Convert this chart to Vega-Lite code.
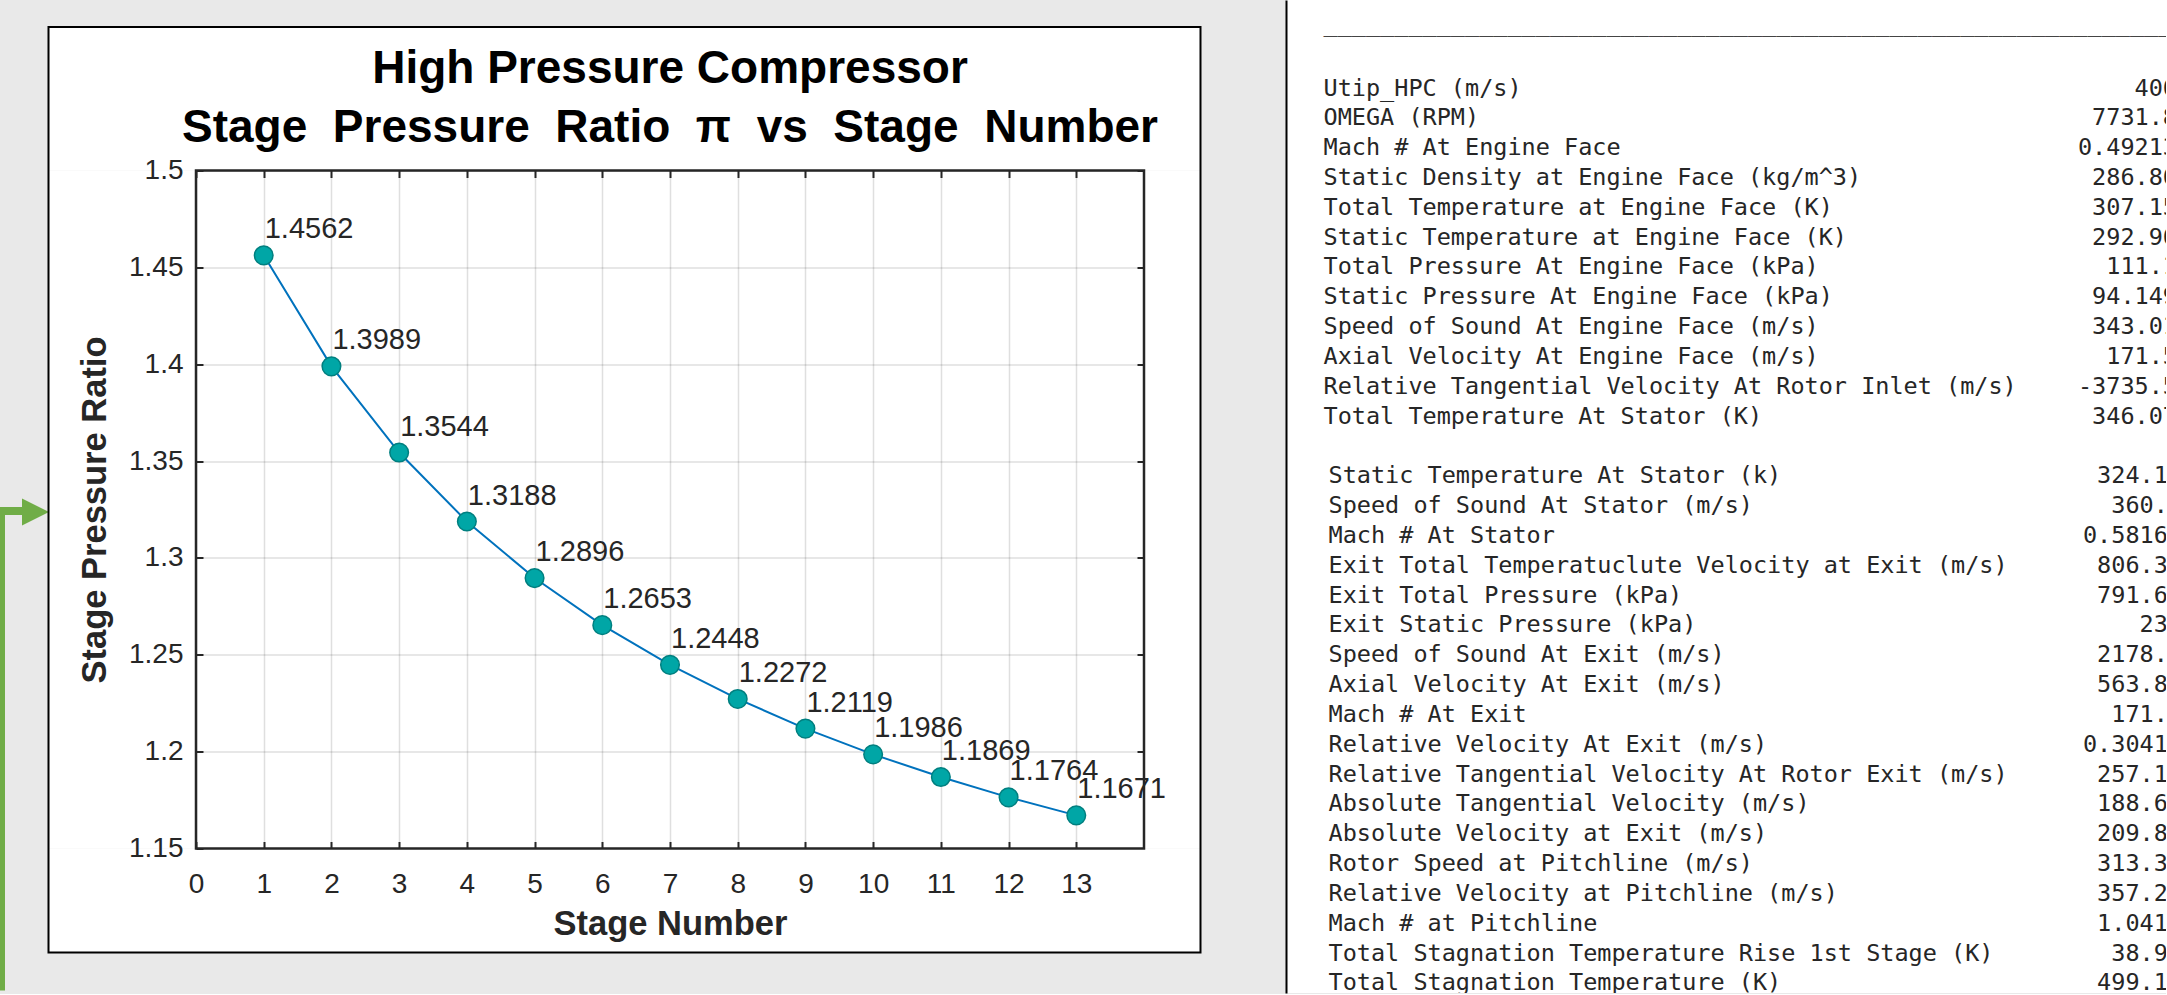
{
  "$schema": "https://vega.github.io/schema/vega-lite/v6.json",
  "padding": 0,
  "background": "#e9e9e9",
  "config": {"view": {"stroke": null}, "font": "Liberation Sans"},
  "spacing": 84,
  "hconcat": [
    {
      "spacing": 24.5,
      "vconcat": [
        {"width": 1, "height": 1, "data": {"values": []}, "mark": "point", "encoding": {}},
        {
          "width": 948,
          "height": 678,
          "view": {"fill": "white", "stroke": null},
          "title": {
            "text": ["High Pressure Compressor", "Stage \u00a0Pressure \u00a0Ratio \u00a0π \u00a0vs \u00a0Stage \u00a0Number"],
            "font": "Liberation Sans", "fontSize": 46, "fontWeight": "bold", "color": "#000000",
            "lineHeight": 59, "frame": "group", "anchor": "middle", "offset": -126.2, "zindex": 1
          },
          "resolve": {"scale": {"x": "independent", "y": "independent"}, "axis": {"x": "independent", "y": "independent"}},
          "layer": [
            {
              "data": {"values": [{}]},
              "layer": [
                {
                  "mark": {"type": "rule", "color": "#70AD47", "strokeWidth": 5},
                  "encoding": {
                    "x": {"datum": -2.85759, "type": "quantitative", "scale": {"domain": [0, 14], "nice": false, "zero": false},
                      "axis": {"orient": "top", "values": [0,1,2,3,4,5,6,7,8,9,10,11,12,13,14], "labels": false, "ticks": true, "tickSize": -7, "tickColor": "#262626", "tickWidth": 2, "domain": false, "grid": true, "gridColor": "#262626", "gridOpacity": 0.15, "gridWidth": 1.5, "title": null, "zindex": 0}},
                    "y": {"datum": 1.32629, "type": "quantitative", "scale": {"domain": [1.15, 1.5], "nice": false, "zero": false},
                      "axis": {"orient": "right", "values": [1.15,1.2,1.25,1.3,1.35,1.4,1.45,1.5], "labels": false, "ticks": true, "tickSize": -7, "tickColor": "#262626", "tickWidth": 2, "domain": false, "grid": true, "gridColor": "#262626", "gridOpacity": 0.15, "gridWidth": 1.5, "title": null, "zindex": 0}},
                    "y2": {"datum": 1.076696}
                  }
                },
                {
                  "mark": {"type": "rule", "color": "#70AD47", "strokeWidth": 8},
                  "encoding": {
                    "x": {"datum": -2.83544, "type": "quantitative", "scale": {"domain": [0, 14], "nice": false, "zero": false}},
                    "x2": {"datum": -2.52532},
                    "y": {"datum": 1.324226, "type": "quantitative", "scale": {"domain": [1.15, 1.5], "nice": false, "zero": false}}
                  }
                },
                {
                  "mark": {"type": "point", "shape": "M-1,-1L1,0L-1,1Z", "filled": true, "color": "#70AD47", "opacity": 1, "size": 729, "strokeWidth": 0},
                  "encoding": {
                    "x": {"datum": -2.37025, "type": "quantitative", "scale": {"domain": [0, 14], "nice": false, "zero": false}},
                    "y": {"datum": 1.32371, "type": "quantitative", "scale": {"domain": [1.15, 1.5], "nice": false, "zero": false}}
                  }
                }
              ]
            },
            {
              "layer": [
                {
                  "data": {"values": [{}]},
                  "mark": {"type": "rect", "color": "#ffffff", "strokeWidth": 0},
                  "encoding": {
                    "x": {"datum": -2.17827, "type": "quantitative", "scale": {"domain": [0, 14], "nice": false, "zero": false}},
                    "x2": {"datum": 14.8343},
                    "y": {"datum": 1.574078, "type": "quantitative", "scale": {"domain": [1.15, 1.5], "nice": false, "zero": false}},
                    "y2": {"datum": 1.5}
                  }
                },
                {
                  "data": {"values": [{}]},
                  "mark": {"type": "rect", "color": "#ffffff", "strokeWidth": 0},
                  "encoding": {
                    "x": {"datum": -2.17827, "type": "quantitative", "scale": {"domain": [0, 14], "nice": false, "zero": false}},
                    "x2": {"datum": 14.8343},
                    "y": {"datum": 1.15, "type": "quantitative", "scale": {"domain": [1.15, 1.5], "nice": false, "zero": false}},
                    "y2": {"datum": 1.096312}
                  }
                },
                {
                  "data": {"values": [{}]},
                  "mark": {"type": "rect", "color": "#ffffff", "strokeWidth": 0},
                  "encoding": {
                    "x": {"datum": -2.17827, "type": "quantitative", "scale": {"domain": [0, 14], "nice": false, "zero": false}},
                    "x2": {"datum": 0},
                    "y": {"datum": 1.5, "type": "quantitative", "scale": {"domain": [1.15, 1.5], "nice": false, "zero": false}},
                    "y2": {"datum": 1.15}
                  }
                },
                {
                  "data": {"values": [{}]},
                  "mark": {"type": "rect", "color": "#ffffff", "strokeWidth": 0},
                  "encoding": {
                    "x": {"datum": 14, "type": "quantitative", "scale": {"domain": [0, 14], "nice": false, "zero": false}},
                    "x2": {"datum": 14.8343},
                    "y": {"datum": 1.5, "type": "quantitative", "scale": {"domain": [1.15, 1.5], "nice": false, "zero": false}},
                    "y2": {"datum": 1.15}
                  }
                },
                {
                  "data": {"values": [{}]},
                  "mark": {"type": "rect", "filled": false, "stroke": "#000000", "strokeWidth": 2},
                  "encoding": {
                    "x": {"datum": -2.17827, "type": "quantitative", "scale": {"domain": [0, 14], "nice": false, "zero": false}},
                    "x2": {"datum": 14.8343},
                    "y": {"datum": 1.574078, "type": "quantitative", "scale": {"domain": [1.15, 1.5], "nice": false, "zero": false}},
                    "y2": {"datum": 1.096312}
                  }
                },
                {
                  "data": {"values": [{}]},
                  "mark": {"type": "rect", "filled": false, "stroke": "#262626", "strokeWidth": 2.5},
                  "encoding": {
                    "x": {"datum": 0, "type": "quantitative", "scale": {"domain": [0, 14], "nice": false, "zero": false}},
                    "x2": {"datum": 14},
                    "y": {"datum": 1.5, "type": "quantitative", "scale": {"domain": [1.15, 1.5], "nice": false, "zero": false}},
                    "y2": {"datum": 1.15}
                  }
                },
                {
                  "data": {"name": "stages", "values": [
                    {"stage": 1, "ratio": 1.4562}, {"stage": 2, "ratio": 1.3989}, {"stage": 3, "ratio": 1.3544},
                    {"stage": 4, "ratio": 1.3188}, {"stage": 5, "ratio": 1.2896}, {"stage": 6, "ratio": 1.2653},
                    {"stage": 7, "ratio": 1.2448}, {"stage": 8, "ratio": 1.2272}, {"stage": 9, "ratio": 1.2119},
                    {"stage": 10, "ratio": 1.1986}, {"stage": 11, "ratio": 1.1869}, {"stage": 12, "ratio": 1.1764},
                    {"stage": 13, "ratio": 1.1671}
                  ]},
                  "layer": [
                    {
                      "mark": {"type": "line", "color": "#0072BD", "strokeWidth": 2},
                      "encoding": {
                        "x": {"field": "stage", "type": "quantitative", "scale": {"domain": [0, 14], "nice": false, "zero": false},
                          "axis": {"orient": "bottom", "values": [0,1,2,3,4,5,6,7,8,9,10,11,12,13], "format": "d", "title": "Stage Number",
                            "titleFont": "Liberation Sans", "titleFontSize": 34.5, "titleFontWeight": "bold", "titleColor": "#262626", "titlePadding": 9,
                            "labelFont": "Liberation Sans", "labelFontSize": 28, "labelColor": "#262626", "labelPadding": 28.7, "labelFlush": false, "labelOverlap": false,
                            "ticks": true, "tickSize": -7, "tickColor": "#262626", "tickWidth": 2, "domain": false, "grid": false, "zindex": 1}},
                        "y": {"field": "ratio", "type": "quantitative", "scale": {"domain": [1.15, 1.5], "nice": false, "zero": false},
                          "axis": {"orient": "left", "values": [1.15,1.2,1.25,1.3,1.35,1.4,1.45,1.5], "format": "~g", "title": "Stage Pressure Ratio",
                            "titleFont": "Liberation Sans", "titleFontSize": 34.5, "titleFontWeight": "bold", "titleColor": "#262626", "titlePadding": 16.5,
                            "labelFont": "Liberation Sans", "labelFontSize": 28, "labelColor": "#262626", "labelPadding": 20, "labelFlush": false, "labelOverlap": false,
                            "ticks": true, "tickSize": -7, "tickColor": "#262626", "tickWidth": 2, "domain": false, "grid": false, "zindex": 1}}
                      }
                    },
                    {
                      "mark": {"type": "point", "shape": "circle", "filled": true, "fill": "#00A6A6", "stroke": "#007F7F", "strokeWidth": 1.5, "opacity": 1, "size": 346},
                      "encoding": {
                        "x": {"field": "stage", "type": "quantitative", "scale": {"domain": [0, 14], "nice": false, "zero": false}},
                        "y": {"field": "ratio", "type": "quantitative", "scale": {"domain": [1.15, 1.5], "nice": false, "zero": false}}
                      }
                    },
                    {
                      "mark": {"type": "text", "align": "left", "baseline": "alphabetic", "dx": 1, "dy": -17, "font": "Liberation Sans", "fontSize": 29, "color": "#262626"},
                      "encoding": {
                        "x": {"field": "stage", "type": "quantitative", "scale": {"domain": [0, 14], "nice": false, "zero": false}},
                        "y": {"field": "ratio", "type": "quantitative", "scale": {"domain": [1.15, 1.5], "nice": false, "zero": false}},
                        "text": {"field": "ratio", "type": "quantitative", "format": ".4f"}
                      }
                    }
                  ]
                }
              ]
            }
          ]
        }
      ]
    },
    {
      "width": 880,
      "height": 993,
      "view": {"fill": "white", "stroke": null},
      "data": {"values": [
        {"i": 0, "c": "label", "g": 0, "t": "______________________________________________________________"},
        {"i": 2, "c": "label", "g": 1, "t": "Utip_HPC (m/s)"}, {"i": 2, "c": "value", "g": 1, "t": "400"},
        {"i": 3, "c": "label", "g": 1, "t": "OMEGA (RPM)"}, {"i": 3, "c": "value", "g": 1, "t": "7731.8"},
        {"i": 4, "c": "label", "g": 1, "t": "Mach # At Engine Face"}, {"i": 4, "c": "value", "g": 1, "t": "0.49213"},
        {"i": 5, "c": "label", "g": 1, "t": "Static Density at Engine Face (kg/m^3)"}, {"i": 5, "c": "value", "g": 1, "t": "286.80"},
        {"i": 6, "c": "label", "g": 1, "t": "Total Temperature at Engine Face (K)"}, {"i": 6, "c": "value", "g": 1, "t": "307.15"},
        {"i": 7, "c": "label", "g": 1, "t": "Static Temperature at Engine Face (K)"}, {"i": 7, "c": "value", "g": 1, "t": "292.90"},
        {"i": 8, "c": "label", "g": 1, "t": "Total Pressure At Engine Face (kPa)"}, {"i": 8, "c": "value", "g": 1, "t": "111.1"},
        {"i": 9, "c": "label", "g": 1, "t": "Static Pressure At Engine Face (kPa)"}, {"i": 9, "c": "value", "g": 1, "t": "94.149"},
        {"i": 10, "c": "label", "g": 1, "t": "Speed of Sound At Engine Face (m/s)"}, {"i": 10, "c": "value", "g": 1, "t": "343.01"},
        {"i": 11, "c": "label", "g": 1, "t": "Axial Velocity At Engine Face (m/s)"}, {"i": 11, "c": "value", "g": 1, "t": "171.5"},
        {"i": 12, "c": "label", "g": 1, "t": "Relative Tangential Velocity At Rotor Inlet (m/s)"}, {"i": 12, "c": "value", "g": 1, "t": "-3735.5"},
        {"i": 13, "c": "label", "g": 1, "t": "Total Temperature At Stator (K)"}, {"i": 13, "c": "value", "g": 1, "t": "346.07"},
        {"i": 15, "c": "label", "g": 2, "t": "Static Temperature At Stator (k)"}, {"i": 15, "c": "value", "g": 2, "t": "324.12"},
        {"i": 16, "c": "label", "g": 2, "t": "Speed of Sound At Stator (m/s)"}, {"i": 16, "c": "value", "g": 2, "t": "360.8"},
        {"i": 17, "c": "label", "g": 2, "t": "Mach # At Stator"}, {"i": 17, "c": "value", "g": 2, "t": "0.58163"},
        {"i": 18, "c": "label", "g": 2, "t": "Exit Total Temperatuclute Velocity at Exit (m/s)"}, {"i": 18, "c": "value", "g": 2, "t": "806.34"},
        {"i": 19, "c": "label", "g": 2, "t": "Exit Total Pressure (kPa)"}, {"i": 19, "c": "value", "g": 2, "t": "791.65"},
        {"i": 20, "c": "label", "g": 2, "t": "Exit Static Pressure (kPa)"}, {"i": 20, "c": "value", "g": 2, "t": "232"},
        {"i": 21, "c": "label", "g": 2, "t": "Speed of Sound At Exit (m/s)"}, {"i": 21, "c": "value", "g": 2, "t": "2178.4"},
        {"i": 22, "c": "label", "g": 2, "t": "Axial Velocity At Exit (m/s)"}, {"i": 22, "c": "value", "g": 2, "t": "563.85"},
        {"i": 23, "c": "label", "g": 2, "t": "Mach # At Exit"}, {"i": 23, "c": "value", "g": 2, "t": "171.5"},
        {"i": 24, "c": "label", "g": 2, "t": "Relative Velocity At Exit (m/s)"}, {"i": 24, "c": "value", "g": 2, "t": "0.30414"},
        {"i": 25, "c": "label", "g": 2, "t": "Relative Tangential Velocity At Rotor Exit (m/s)"}, {"i": 25, "c": "value", "g": 2, "t": "257.18"},
        {"i": 26, "c": "label", "g": 2, "t": "Absolute Tangential Velocity (m/s)"}, {"i": 26, "c": "value", "g": 2, "t": "188.63"},
        {"i": 27, "c": "label", "g": 2, "t": "Absolute Velocity at Exit (m/s)"}, {"i": 27, "c": "value", "g": 2, "t": "209.85"},
        {"i": 28, "c": "label", "g": 2, "t": "Rotor Speed at Pitchline (m/s)"}, {"i": 28, "c": "value", "g": 2, "t": "313.33"},
        {"i": 29, "c": "label", "g": 2, "t": "Relative Velocity at Pitchline (m/s)"}, {"i": 29, "c": "value", "g": 2, "t": "357.24"},
        {"i": 30, "c": "label", "g": 2, "t": "Mach # at Pitchline"}, {"i": 30, "c": "value", "g": 2, "t": "1.0413"},
        {"i": 31, "c": "label", "g": 2, "t": "Total Stagnation Temperature Rise 1st Stage (K)"}, {"i": 31, "c": "value", "g": 2, "t": "38.96"},
        {"i": 32, "c": "label", "g": 2, "t": "Total Stagnation Temperature (K)"}, {"i": 32, "c": "value", "g": 2, "t": "499.13"}
      ]},
      "encoding": {
        "x": {"field": "c", "type": "nominal", "scale": {"type": "point", "domain": ["label", "value"], "padding": 0.02226, "align": 1}, "axis": null},
        "y": {"field": "i", "type": "quantitative", "scale": {"domain": [-0.967, 32.32], "reverse": true, "nice": false, "zero": false},
          "axis": {"orient": "left", "labels": false, "ticks": false, "grid": false, "title": null, "domain": true, "domainColor": "#000000", "domainWidth": 2}},
        "text": {"field": "t", "type": "nominal"}
      },
      "layer": [
        {"transform": [{"filter": "datum.g == 0"}],
          "mark": {"type": "text", "align": "left", "baseline": "middle", "dy": -5, "font": "DejaVu Sans Mono", "fontSize": 23.5, "color": "#444444", "clip": true}},
        {"transform": [{"filter": "datum.c == 'label' && datum.g == 1"}],
          "mark": {"type": "text", "align": "left", "baseline": "middle", "font": "DejaVu Sans Mono", "fontSize": 23.5, "color": "#262626", "clip": true}},
        {"transform": [{"filter": "datum.c == 'label' && datum.g == 2"}],
          "mark": {"type": "text", "align": "left", "baseline": "middle", "dx": 5, "font": "DejaVu Sans Mono", "fontSize": 23.5, "color": "#262626", "clip": true}},
        {"transform": [{"filter": "datum.c == 'value' && datum.g == 1"}],
          "mark": {"type": "text", "align": "right", "baseline": "middle", "dx": 11, "font": "DejaVu Sans Mono", "fontSize": 23.5, "color": "#262626", "clip": true}},
        {"transform": [{"filter": "datum.c == 'value' && datum.g == 2"}],
          "mark": {"type": "text", "align": "right", "baseline": "middle", "dx": 16, "font": "DejaVu Sans Mono", "fontSize": 23.5, "color": "#262626", "clip": true}}
      ]
    }
  ]
}
